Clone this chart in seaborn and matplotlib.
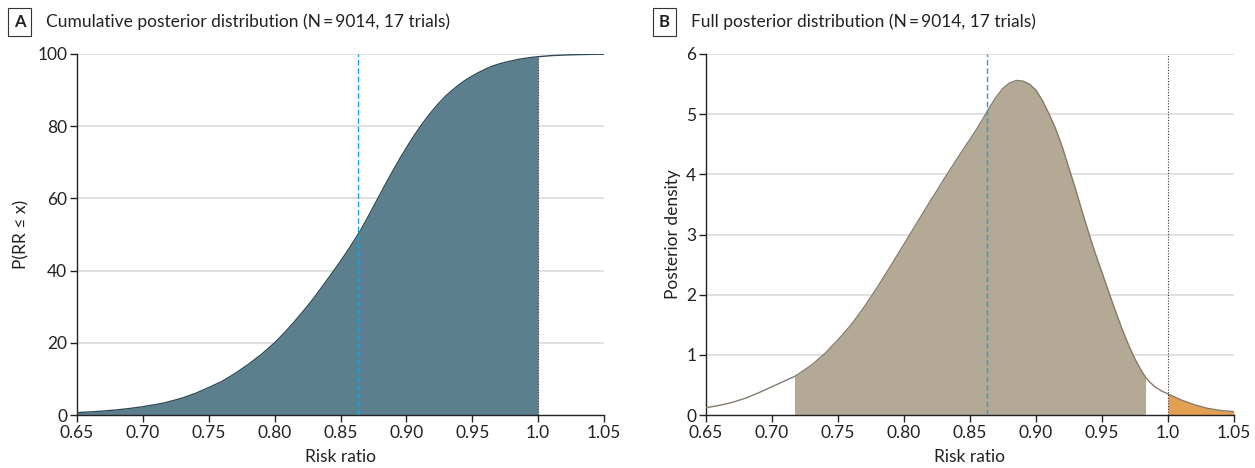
import numpy as np
import pandas as pd
import seaborn as sns
import matplotlib
matplotlib.use('Agg')
import matplotlib.pyplot as plt


# risk ratio grid (denser around the peak)
risk_ratio = [0.65, 0.66, 0.67, 0.68, 0.69, 0.70, 0.71, 0.717, 0.72, 0.73,
              0.74, 0.75, 0.76, 0.77, 0.78, 0.79, 0.80, 0.805, 0.81, 0.815,
              0.82, 0.825, 0.83, 0.835, 0.84, 0.845, 0.85, 0.855, 0.86,
              0.865, 0.87, 0.875, 0.88, 0.885, 0.89, 0.895, 0.90, 0.905,
              0.91, 0.915, 0.92, 0.925, 0.93, 0.935, 0.94, 0.945, 0.95,
              0.955, 0.96, 0.965, 0.97, 0.975, 0.98, 0.983, 0.985, 0.99,
              0.995, 1.00, 1.01, 1.02, 1.03, 1.04, 1.05]

# panel A: cumulative posterior, percent
cum_prob = [0.65, 0.85, 1.1, 1.4, 1.8, 2.3, 2.9, 3.4, 3.7, 4.7,
            6.0, 7.6, 9.3, 11.5, 14.0, 16.8, 20.0, 21.85, 23.8, 25.85,
            28.0, 30.2, 32.5, 35.0, 37.5, 40.0, 42.6, 45.3, 48.1,
            51.0, 54.3, 57.7, 61.1, 64.5, 67.8, 71.0, 74.0, 76.9,
            79.6, 82.1, 84.4, 86.5, 88.4, 90.0, 91.5, 92.8, 93.9,
            94.9, 95.8, 96.6, 97.2, 97.7, 98.1, 98.35, 98.5, 98.8,
            99.05, 99.25, 99.55, 99.72, 99.83, 99.9, 99.95]

# panel B: posterior density
density = [0.12, 0.16, 0.21, 0.28, 0.37, 0.47, 0.57, 0.64, 0.68, 0.83,
           1.02, 1.25, 1.50, 1.80, 2.13, 2.48, 2.84, 3.02, 3.20, 3.38,
           3.56, 3.73, 3.91, 4.08, 4.25, 4.42, 4.58, 4.75, 4.93,
           5.12, 5.29, 5.43, 5.52, 5.56, 5.55, 5.50, 5.40, 5.22,
           5.00, 4.75, 4.45, 4.10, 3.75, 3.38, 3.02, 2.68, 2.37,
           2.05, 1.74, 1.44, 1.17, 0.93, 0.73, 0.63, 0.57, 0.47,
           0.40, 0.35, 0.25, 0.17, 0.11, 0.075, 0.055]

median_rr = 0.863
cri_low, cri_high = 0.717, 0.983
x_ticks = [0.65, 0.70, 0.75, 0.80, 0.85, 0.90, 0.95, 1.00, 1.05]
x_tick_labels = ['0.65', '0.70', '0.75', '0.80', '0.85', '0.90', '0.95',
                 '1.0', '1.05']
titles = ['Cumulative posterior distribution (N\u2009=\u20099014, 17 trials)',
          'Full posterior distribution (N\u2009=\u20099014, 17 trials)']

sns.set_style('white')
plt.rcParams['font.family'] = ['Lato', 'DejaVu Sans']
plt.rcParams['text.color'] = '#222222'
plt.rcParams['axes.labelcolor'] = '#222222'
plt.rcParams['xtick.color'] = '#222222'
plt.rcParams['ytick.color'] = '#222222'

df = pd.DataFrame({'rr': risk_ratio, 'cum': cum_prob, 'dens': density})
x = df['rr'].values

fig = plt.figure(figsize=(12.55, 4.68), dpi=100)
ax_a = fig.add_axes([77 / 1255, 1 - 415 / 468, 527 / 1255, 361 / 468])
ax_b = fig.add_axes([706 / 1255, 1 - 415 / 468, 528 / 1255, 361 / 468])

# panel A
ax_a.fill_between(x, df['cum'], where=x <= 1.0 + 1e-9, color='#5b7f8c',
                  lw=0, zorder=2)
sns.lineplot(data=df, x='rr', y='cum', ax=ax_a, color='#2c4a55', lw=1,
             zorder=3)
ax_a.set_ylim(0, 100)
ax_a.set_yticks([0, 20, 40, 60, 80, 100])
ax_a.set_ylabel('P(RR \u2264 x)', fontsize=12.5, labelpad=6)

# panel B
ax_b.fill_between(x, df['dens'], where=(x >= cri_low) & (x <= cri_high),
                  color='#b3a995', lw=0, zorder=2)
ax_b.fill_between(x, df['dens'], where=x >= 1.0 - 1e-9, color='#e3a052',
                  lw=0, zorder=2)
sns.lineplot(data=df, x='rr', y='dens', ax=ax_b, color='#857b6b', lw=1,
             zorder=3)
ax_b.set_ylim(0, 6)
ax_b.set_yticks([0, 1, 2, 3, 4, 5, 6])
ax_b.set_ylabel('Posterior density', fontsize=12.5)

for ax, letter, title in zip([ax_a, ax_b], ['A', 'B'], titles):
    top = ax.get_ylim()[1]
    ax.set_xlim(0.65, 1.05)
    ax.set_xticks(x_ticks)
    ax.set_xticklabels(x_tick_labels)
    ax.set_xlabel('Risk ratio', fontsize=12.5, labelpad=6)
    ax.tick_params(axis='both', direction='out', length=5, width=1,
                   labelsize=12.5, bottom=True, left=True, pad=2)
    for yt in ax.get_yticks()[1:]:
        ax.axhline(yt, color='#dcdcdc', lw=1.2, zorder=1)
    ax.vlines(median_rr, 0, top, color='#1fa3dc', lw=1, linestyles=(0, (4, 2)),
              zorder=4)
    ax.vlines(1.0, 0, top, color='#333333', lw=0.8, linestyles=(0, (1, 1.5)),
              zorder=4)
    sns.despine(ax=ax)
    for side in ['left', 'bottom']:
        ax.spines[side].set_color('#222222')
        ax.spines[side].set_linewidth(1)
    box_x = 14 / 1255 if letter == 'A' else 659 / 1255
    text_x = 46 / 1255 if letter == 'A' else 691 / 1255
    fig.text(box_x, 1 - 22 / 468, letter, fontsize=12, fontweight='bold',
             va='center', ha='left',
             bbox=dict(boxstyle='square,pad=0.35', fc='white', ec='#333333',
                       lw=0.8))
    fig.text(text_x, 1 - 22 / 468, title, fontsize=12.5, va='center',
             ha='left')

fig.savefig('out.png', dpi=100)
